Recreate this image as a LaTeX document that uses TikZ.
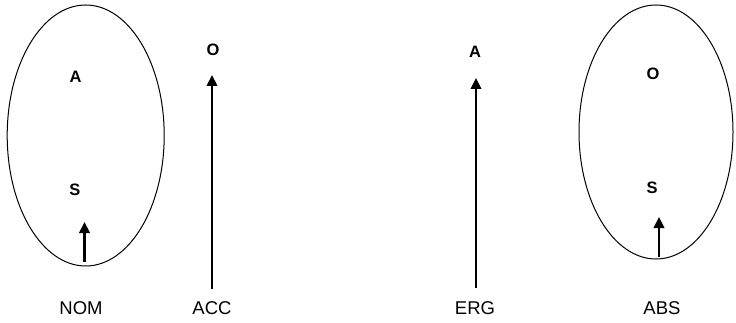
\documentclass[tikz,border=0pt]{standalone}
\usepackage{fontspec}
\setmainfont{Liberation Sans}
\usetikzlibrary{arrows.meta,shapes.geometric}

\tikzset{
  role/.style={font=\fontsize{16.5}{19}\selectfont\bfseries, inner sep=0pt},
  casename/.style={font=\fontsize{18.5}{22}\selectfont, inner sep=0pt},
  grouping/.style={draw, ellipse, line width=1pt, inner sep=0pt},
  align/.style={line width=2.2pt, -{Triangle[length=11pt,width=10.5pt]}}
}

\begin{document}
\begin{tikzpicture}[x=1pt, y=-1pt]
  \useasboundingbox (0,0) rectangle (736,323);

  % accusative system: S grouped with A, O separate
  \node[grouping, minimum width=157pt, minimum height=261pt] (nomset) at (85.7,135.5) {};
  \node[role] (nomA) at (75.5,76.5) {A};
  \node[role] (nomS) at (75,190) {S};
  \node[role] (accO) at (213,50) {O};
  \node[casename] (nom) at (81,308.5) {NOM};
  \node[casename] (acc) at (212,308.5) {ACC};

  % ergative system: S grouped with O, A separate
  \node[grouping, minimum width=154pt, minimum height=254pt] (absset) at (656,132) {};
  \node[role] (absO) at (653,74) {O};
  \node[role] (absS) at (652,188) {S};
  \node[role] (ergA) at (475,52) {A};
  \node[casename] (erg) at (475,308.5) {ERG};
  \node[casename] (abs) at (662,308.5) {ABS};

  % arrow ends
  \coordinate (nomfoot) at (84.5,262);
  \coordinate (nomtip)  at (84.5,222);
  \coordinate (accfoot) at (212,289);
  \coordinate (acctip)  at (212,75);
  \coordinate (ergfoot) at (476,288);
  \coordinate (ergtip)  at (476,78);
  \coordinate (absfoot) at (659,257);
  \coordinate (abstip)  at (659,217);

  \draw[align] (nomfoot) -- (nomtip);
  \draw[align] (accfoot) -- (acctip);
  \draw[align] (ergfoot) -- (ergtip);
  \draw[align] (absfoot) -- (abstip);
\end{tikzpicture}
\end{document}
